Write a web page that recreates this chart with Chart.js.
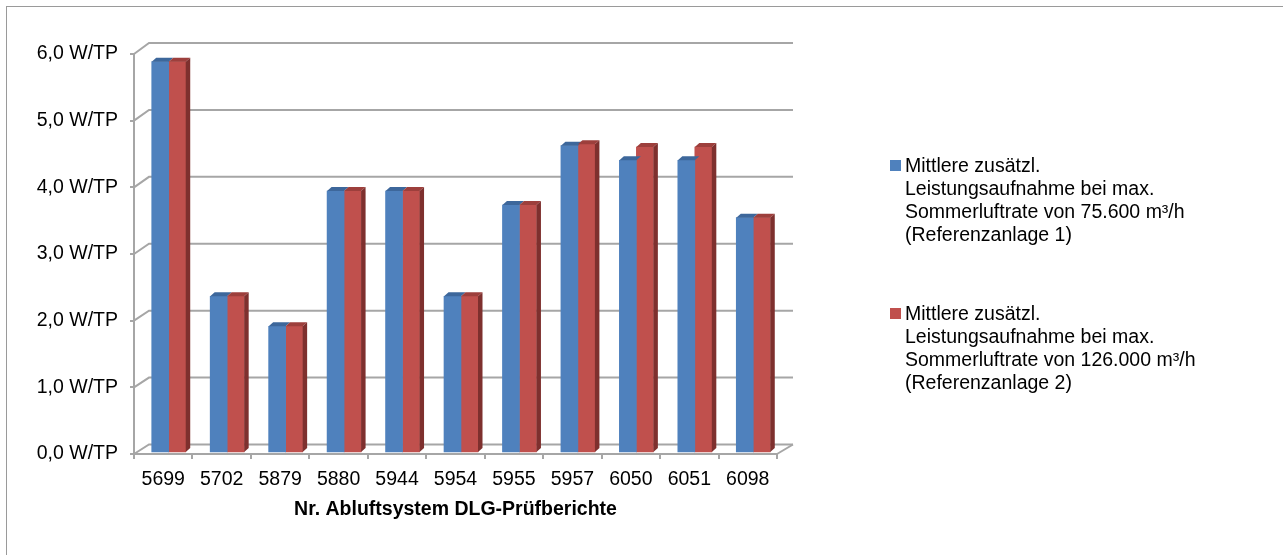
<!DOCTYPE html>
<html>
<head>
<meta charset="utf-8">
<script src="https://cdn.jsdelivr.net/npm/chart.js@4.4.0/dist/chart.umd.min.js"></script>
<style>
  body { margin: 0; background: #fff; }
  #wrap { position: relative; width: 1283px; height: 555px; overflow: hidden; }
  #frame { position: absolute; left: 6px; top: 6px; width: 1300px; height: 600px;
           border-left: 1px solid #9a9a9a; border-top: 1px solid #9a9a9a; }
  canvas { position: absolute; left: 0; top: 0; }
  .leg { position: absolute; left: 890px; font: 19.5px "Liberation Sans", Arial, sans-serif;
         line-height: 23px; color: #000; white-space: nowrap; }
  .leg .box { position: absolute; left: 0; top: 6px; width: 11px; height: 11px; }
  .leg .txt { margin-left: 15px; }
</style>
</head>
<body>
<div id="wrap">
  <div id="frame"></div>
  <canvas id="myChart" width="1283" height="555"></canvas>
  <div id="legend"></div>
</div>
<script>
var categories = ['5699', '5702', '5879', '5880', '5944', '5954', '5955', '5957', '6050', '6051', '6098'];
var anlage1 = [5.87, 2.35, 1.90, 3.93, 3.93, 2.35, 3.72, 4.61, 4.39, 4.39, 3.53];
var anlage2 = [5.87, 2.35, 1.90, 3.93, 3.93, 2.35, 3.72, 4.63, 4.59, 4.59, 3.53];
var yTicks = [0, 1, 2, 3, 4, 5, 6];
var seriesNames = [
  ['Mittlere zusätzl.', 'Leistungsaufnahme bei max.', 'Sommerluftrate von 75.600 m³/h', '(Referenzanlage 1)'],
  ['Mittlere zusätzl.', 'Leistungsaufnahme bei max.', 'Sommerluftrate von 126.000 m³/h', '(Referenzanlage 2)']
];
var xTitle = 'Nr. Abluftsystem DLG-Prüfberichte';

var frontColors = ['#4f81bd', '#c0504d'];
var topColors = ['#3d679b', '#9d3f3c'];
var sideColor = '#7e302e';
var gridColor = '#a6a6a6';

Chart.defaults.font.family = '"Liberation Sans", Arial, sans-serif';
Chart.defaults.color = '#000';

// back wall with gridlines, drawn behind the bars
function wallDepth(v) { return 9.5 + 1.5 * v / 6; }
var wall = {
  id: 'wall',
  beforeDatasetsDraw: function(chart) {
    var ctx = chart.ctx, a = chart.chartArea, y = chart.scales.y;
    ctx.save();
    ctx.strokeStyle = gridColor;
    ctx.lineWidth = 2;
    for (var i = 0; i < yTicks.length; i++) {
      var py = y.getPixelForValue(yTicks[i]);
      var d = wallDepth(yTicks[i]);
      ctx.beginPath();
      ctx.moveTo(a.left, py);
      ctx.lineTo(a.left + 15, py - d);
      ctx.lineTo(a.right + 16, py - d);
      ctx.stroke();
    }
    ctx.beginPath();
    ctx.moveTo(a.right, a.bottom);
    ctx.lineTo(a.right + 16, a.bottom - wallDepth(0));
    ctx.stroke();
    ctx.restore();
  }
};

// fake 3d: shift bars into the box and add top and side faces
var faces = {
  id: 'faces',
  beforeDatasetsDraw: function(chart) {
    chart.ctx.save();
    chart.ctx.translate(5.5, -1);
  },
  afterDatasetsDraw: function(chart) {
    var ctx = chart.ctx;
    var dx = 4.5, dy = 4;
    for (var k = 0; k < 2; k++) {
      var meta = chart.getDatasetMeta(k);
      meta.data.forEach(function(bar) {
        var p = bar.getProps(['x', 'y', 'base', 'width'], true);
        var l = p.x - p.width / 2, r = p.x + p.width / 2;
        ctx.fillStyle = topColors[k];
        ctx.beginPath();
        ctx.moveTo(l, p.y);
        ctx.lineTo(r, p.y);
        ctx.lineTo(r + dx, p.y - dy);
        ctx.lineTo(l + dx, p.y - dy);
        ctx.closePath();
        ctx.fill();
        if (k == 1) {
          ctx.fillStyle = sideColor;
          ctx.beginPath();
          ctx.moveTo(r, p.y);
          ctx.lineTo(r + dx, p.y - dy);
          ctx.lineTo(r + dx, p.base - dy);
          ctx.lineTo(r, p.base);
          ctx.closePath();
          ctx.fill();
        }
      });
    }
    ctx.restore();
  }
};

var ctx = document.getElementById('myChart');
var chart = new Chart(ctx, {
  type: 'bar',
  data: {
    labels: categories,
    datasets: [{
      label: seriesNames[0].join(' '),
      data: anlage1,
      backgroundColor: frontColors[0],
      barThickness: 17
    }, {
      label: seriesNames[1].join(' '),
      data: anlage2,
      backgroundColor: frontColors[1],
      barThickness: 17
    }]
  },
  options: {
    responsive: false,
    animation: false,
    devicePixelRatio: 1,
    layout: { padding: { left: 0, top: 54, right: 506, bottom: 0 } },
    plugins: { legend: { display: false }, tooltip: { enabled: false } },
    scales: {
      x: {
        afterFit: function(s) { s.height = 101; },
        grid: { drawOnChartArea: false, drawTicks: true, tickLength: 5, color: gridColor, lineWidth: 2 },
        border: { display: true, color: gridColor, width: 2 },
        ticks: { font: { size: 19.5 }, padding: 9, maxRotation: 0, autoSkip: false },
        title: { display: true, text: xTitle, font: { size: 19.5, weight: 'bold' }, padding: { top: 0, bottom: 34 } }
      },
      y: {
        min: 0,
        max: 6,
        afterFit: function(s) { s.width = 134; },
        afterBuildTicks: function(s) { s.ticks = yTicks.map(function(v) { return { value: v }; }); },
        grid: { drawOnChartArea: false, drawTicks: true, tickLength: 4, color: gridColor, lineWidth: 2 },
        border: { display: true, color: gridColor, width: 2 },
        ticks: {
          font: { size: 19.5 },
          padding: 12,
          callback: function(v) { return v.toFixed(1).replace('.', ',') + ' W/TP'; }
        }
      }
    }
  },
  plugins: [wall, faces]
});

// legend as html, lines broken like in the original
var legendTops = [153.5, 301.5];
var legend = document.getElementById('legend');
for (var i = 0; i < seriesNames.length; i++) {
  var item = document.createElement('div');
  item.className = 'leg';
  item.style.top = legendTops[i] + 'px';
  item.innerHTML = '<span class="box" style="background:' + frontColors[i] + '"></span>' +
    '<div class="txt">' + seriesNames[i].join('<br>') + '</div>';
  legend.appendChild(item);
}
</script>
</body>
</html>
